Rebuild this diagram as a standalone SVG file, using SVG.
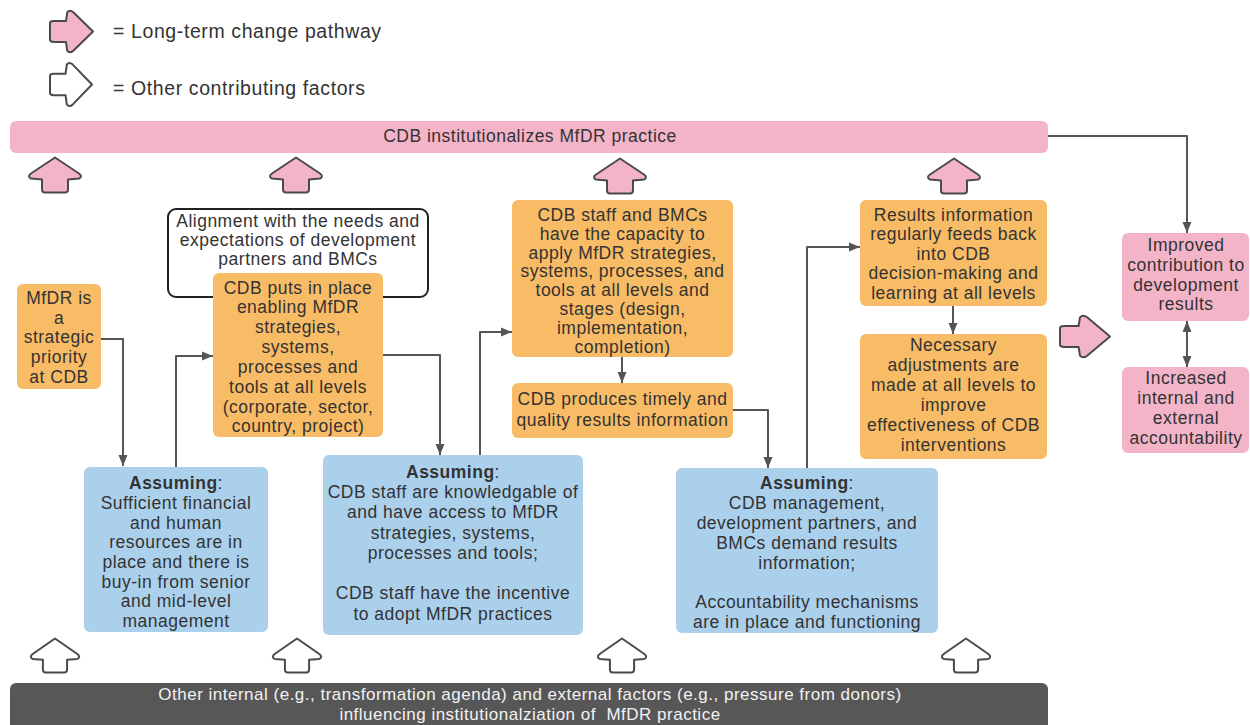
<svg xmlns="http://www.w3.org/2000/svg" xmlns:xlink="http://www.w3.org/1999/xlink" width="1250" height="725" viewBox="0 0 1250 725">
<style>
.t{font-family:"Liberation Sans",Arial,sans-serif;font-size:17.5px;letter-spacing:0.5px;fill:#333;text-anchor:middle}
.lg{font-family:"Liberation Sans",Arial,sans-serif;font-size:19.5px;letter-spacing:0.6px;fill:#333}
.bt{font-family:"Liberation Sans",Arial,sans-serif;font-size:17px;letter-spacing:0.5px;fill:#f2f2f2;text-anchor:middle;white-space:pre}
.b{font-weight:bold}
.pink{fill:#f3b4c8}
.org{fill:#f9bc66}
.blue{fill:#abd0ec}
.pk{fill:#f3b4c8;stroke:#4a4a4a;stroke-width:2}
.wh{fill:#ffffff;stroke:#4a4a4a;stroke-width:2}
.c{fill:none;stroke:#555;stroke-width:2;stroke-linejoin:round}
</style>
<defs>
<path id="up" vector-effect="non-scaling-stroke" stroke-linejoin="round" d="M0,-17.5 L24,-1.5 Q28,1.5 24,3.5 L13,4.5 L13,14.5 Q13,17.5 10,17.5 L-10,17.5 Q-13,17.5 -13,14.5 L-13,4.5 L-24,3.5 Q-28,1.5 -24,-1.5 Z"/>
<marker id="ah" markerUnits="userSpaceOnUse" markerWidth="12" markerHeight="10" refX="11" refY="5" orient="auto-start-reverse">
<path d="M0,0.5 L11,5 L0,9.5 Z" fill="#555"/>
</marker>
</defs>
<rect width="1250" height="725" fill="#ffffff"/>

<g id="legend">
<use href="#up" class="pk" transform="translate(71.5,31.5) rotate(90) scale(0.8,1.23)"/>
<text class="lg" x="113" y="38">= Long-term change pathway</text>
<use href="#up" class="wh" transform="translate(71,84.5) rotate(90) scale(0.83,1.2)"/>
<text class="lg" x="113" y="95">= Other contributing factors</text>
</g>

<g id="top-bar">
<rect class="pink" x="10" y="121" width="1038" height="32" rx="6"/>
<text class="t" x="530" y="142">CDB institutionalizes MfDR practice</text>
</g>

<g id="pathway-arrows">
<use href="#up" class="pk" transform="translate(55,175)"/>
<use href="#up" class="pk" transform="translate(296,175)"/>
<use href="#up" class="pk" transform="translate(620,176)"/>
<use href="#up" class="pk" transform="translate(954,176)"/>
<use href="#up" class="pk" transform="translate(1085,336.5) rotate(90) scale(0.8,1.43)"/>
</g>

<g id="factor-arrows">
<use href="#up" class="wh" transform="translate(55,655.5) scale(0.93,0.97)"/>
<use href="#up" class="wh" transform="translate(297,655.5) scale(0.93,0.97)"/>
<use href="#up" class="wh" transform="translate(622,655.5) scale(0.93,0.97)"/>
<use href="#up" class="wh" transform="translate(966,655.5) scale(0.93,0.97)"/>
</g>

<g id="alignment">
<rect x="168" y="209" width="260" height="88" rx="8" fill="#fff" stroke="#222" stroke-width="2"/>
<text class="t" x="298" y="227">Alignment with the needs and</text>
<text class="t" x="298" y="246">expectations of development</text>
<text class="t" x="298" y="265">partners and BMCs</text>
</g>

<g id="mfdr-priority">
<rect class="org" x="17" y="284" width="84" height="105" rx="6"/>
<text class="t" x="59" y="304">MfDR is</text>
<text class="t" x="59" y="324">a</text>
<text class="t" x="59" y="343">strategic</text>
<text class="t" x="59" y="363">priority</text>
<text class="t" x="59" y="383">at CDB</text>
</g>

<g id="enabling">
<rect class="org" x="213" y="273" width="170" height="164" rx="6"/>
<text class="t" x="298" y="294">CDB puts in place</text>
<text class="t" x="298" y="313">enabling MfDR</text>
<text class="t" x="298" y="333">strategies,</text>
<text class="t" x="298" y="353">systems,</text>
<text class="t" x="298" y="373">processes and</text>
<text class="t" x="298" y="393">tools at all levels</text>
<text class="t" x="298" y="413">(corporate, sector,</text>
<text class="t" x="298" y="432">country, project)</text>
</g>

<g id="capacity">
<rect class="org" x="512" y="200" width="221" height="157" rx="6"/>
<text class="t" x="622.5" y="220.5">CDB staff and BMCs</text>
<text class="t" x="622.5" y="239.5">have the capacity to</text>
<text class="t" x="622.5" y="258.5">apply MfDR strategies,</text>
<text class="t" x="622.5" y="277">systems, processes, and</text>
<text class="t" x="622.5" y="296">tools at all levels and</text>
<text class="t" x="622.5" y="315">stages (design,</text>
<text class="t" x="622.5" y="334">implementation,</text>
<text class="t" x="622.5" y="352.5">completion)</text>
</g>

<g id="results-info">
<rect class="org" x="512" y="383" width="221" height="55" rx="6"/>
<text class="t" x="622.5" y="404.5">CDB produces timely and</text>
<text class="t" x="622.5" y="425.5">quality results information</text>
</g>

<g id="feedback">
<rect class="org" x="860" y="200" width="187" height="106" rx="6"/>
<text class="t" x="953.5" y="220.5">Results information</text>
<text class="t" x="953.5" y="240">regularly feeds back</text>
<text class="t" x="953.5" y="259.5">into CDB</text>
<text class="t" x="953.5" y="279">decision-making and</text>
<text class="t" x="953.5" y="298.5">learning at all levels</text>
</g>

<g id="adjustments">
<rect class="org" x="860" y="334" width="187" height="125" rx="6"/>
<text class="t" x="953.5" y="350.5">Necessary</text>
<text class="t" x="953.5" y="370.5">adjustments are</text>
<text class="t" x="953.5" y="390.5">made at all levels to</text>
<text class="t" x="953.5" y="410.5">improve</text>
<text class="t" x="953.5" y="430.5">effectiveness of CDB</text>
<text class="t" x="953.5" y="450.5">interventions</text>
</g>

<g id="improved-contribution">
<rect class="pink" x="1122" y="233" width="127" height="88" rx="6"/>
<text class="t" x="1186" y="251">Improved</text>
<text class="t" x="1186" y="271">contribution to</text>
<text class="t" x="1186" y="291">development</text>
<text class="t" x="1186" y="310">results</text>
</g>

<g id="accountability">
<rect class="pink" x="1122" y="367" width="127" height="86" rx="6"/>
<text class="t" x="1186" y="383.5">Increased</text>
<text class="t" x="1186" y="403.5">internal and</text>
<text class="t" x="1186" y="423.5">external</text>
<text class="t" x="1186" y="443.5">accountability</text>
</g>

<g id="assumption-1">
<rect class="blue" x="84" y="467" width="184" height="165" rx="6"/>
<text class="t" x="176" y="488.5"><tspan class="b">Assuming</tspan>:</text>
<text class="t" x="176" y="508.5">Sufficient financial</text>
<text class="t" x="176" y="528.5">and human</text>
<text class="t" x="176" y="548">resources are in</text>
<text class="t" x="176" y="567.5">place and there is</text>
<text class="t" x="176" y="587.5">buy-in from senior</text>
<text class="t" x="176" y="607">and mid-level</text>
<text class="t" x="176" y="626.5">management</text>
</g>

<g id="assumption-2">
<rect class="blue" x="323" y="455" width="260" height="180" rx="6"/>
<text class="t" x="453" y="477.5"><tspan class="b">Assuming</tspan>:</text>
<text class="t" x="453" y="498">CDB staff are knowledgable of</text>
<text class="t" x="453" y="518">and have access to MfDR</text>
<text class="t" x="453" y="538.5">strategies, systems,</text>
<text class="t" x="453" y="558.5">processes and tools;</text>
<text class="t" x="453" y="599">CDB staff have the incentive</text>
<text class="t" x="453" y="619.5">to adopt MfDR practices</text>
</g>

<g id="assumption-3">
<rect class="blue" x="676" y="468" width="262" height="165" rx="6"/>
<text class="t" x="807" y="488.5"><tspan class="b">Assuming</tspan>:</text>
<text class="t" x="807" y="508.5">CDB management,</text>
<text class="t" x="807" y="528.5">development partners, and</text>
<text class="t" x="807" y="548.5">BMCs demand results</text>
<text class="t" x="807" y="568.5">information;</text>
<text class="t" x="807" y="608">Accountability mechanisms</text>
<text class="t" x="807" y="628">are in place and functioning</text>
</g>

<g id="other-factors">
<rect x="10" y="683" width="1038" height="50" rx="6" fill="#575757"/>
<text class="bt" x="530" y="700">Other internal (e.g., transformation agenda) and external factors (e.g., pressure from donors)</text>
<text class="bt" x="530" y="720" xml:space="preserve">influencing institutionalziation of  MfDR practice</text>
</g>

<g id="connectors">
<path class="c" d="M101,339 H123 V466" marker-end="url(#ah)"/>
<path class="c" d="M176,467 V356 H213" marker-end="url(#ah)"/>
<path class="c" d="M383,355 H440 V455" marker-end="url(#ah)"/>
<path class="c" d="M480,455 V332 H512" marker-end="url(#ah)"/>
<path class="c" d="M622,357 V383" marker-end="url(#ah)"/>
<path class="c" d="M733,410 H768 V468" marker-end="url(#ah)"/>
<path class="c" d="M807,468 V247 H860" marker-end="url(#ah)"/>
<path class="c" d="M953,306 V334" marker-end="url(#ah)"/>
<path class="c" d="M1048,136 H1187 V233" marker-end="url(#ah)"/>
<path class="c" d="M1187,321 V367" marker-start="url(#ah)" marker-end="url(#ah)"/>
</g>
</svg>
